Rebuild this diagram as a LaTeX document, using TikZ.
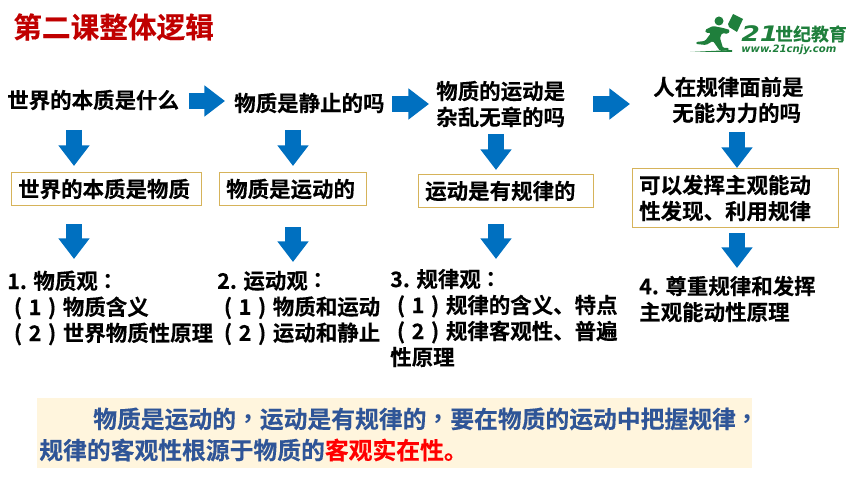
\documentclass[tikz,border=0pt]{standalone}
\usepackage{fontspec}
\usetikzlibrary{arrows.meta}
\setmainfont{Noto Sans CJK SC}[BoldFont={Noto Sans CJK SC Bold},BoldFeatures={FakeBold=0.25}]
\newfontfamily\tcfont{Noto Sans CJK TC}[BoldFont={Noto Sans CJK TC Bold}]
\newfontfamily\logofont{DejaVu Sans}[BoldFont={DejaVu Sans Bold}]
\newcommand{\zw}[1]{{\tcfont #1}}
\newcommand{\num}[1]{\makebox[1em][c]{(}#1\makebox[1em][c]{)}}
\definecolor{flowblue}{HTML}{0070C0}
\definecolor{boxgold}{HTML}{D6B35A}
\definecolor{notefill}{HTML}{FFF5DD}
\definecolor{noteblue}{HTML}{2F5597}
\definecolor{logogreen}{HTML}{1F7F3C}
\definecolor{titlered}{HTML}{C00000}
\tikzset{
  lbl/.style={inner sep=0pt, anchor=west, align=left, font=\bfseries\fontsize{16.1}{19.5}\selectfont},
  ansbox/.style={lbl, anchor=north west, draw=boxgold, line width=0.8pt, inner sep=0pt},
  flow/.style={draw=flowblue, line width=11.4pt, -{Triangle[length=15.5pt,width=22.5pt]}},
  note/.style={inner sep=0pt, anchor=west, text=noteblue, font=\bfseries\fontsize{17.85}{23.25}\selectfont},
}
\begin{document}
\begin{tikzpicture}[x=0.75pt,y=-0.75pt]
  \useasboundingbox (0,0) rectangle (860,484);

  % Title
  \node[inner sep=0pt, anchor=west, text=titlered, font=\bfseries\fontsize{21.5}{24}\selectfont] (title) at (13,27) {第二课整体逻辑};

  % Logo
  \fill[logogreen] (719,21) circle (4.5);
  \fill[logogreen] (728,24) -- (733,14) -- (743,19) -- (737,32) -- (729,27) -- cycle;
  \fill[logogreen, rounded corners=1pt] (705,30) -- (713,26) -- (723,28) -- (730,30) -- (728,34) -- (722,33) -- (720,38) -- (723,48) -- (729,48) -- (729,50) -- (720,51) -- (713,41) -- (706,45) -- (696,44) -- (696,42) -- (705,41) -- (711,33) -- (706,33) -- cycle;
  \fill[logogreen] (690,52) -- (732,50) -- (732,52) -- cycle;
  \node[inner sep=0pt, anchor=west, text=logogreen, font=\logofont\bfseries\itshape\fontsize{16}{16}\selectfont] (brandnum) at (741,34) {\scalebox{1.25}[1]{21}};
  \node[inner sep=0pt, anchor=west, text=logogreen, font=\bfseries\fontsize{13.4}{14}\selectfont] (brand) at (775,34) {世纪教育};
  \node[inner sep=0pt, anchor=west, text=logogreen, font=\logofont\bfseries\itshape\fontsize{7.6}{8}\selectfont] (brandurl) at (741,50) {www.21cnjy.com};

  % Questions
  \node[lbl] (q1) at (7,100) {世界的本质是什么};
  \node[lbl] (q2) at (234,103) {物质是静止的吗};
  \node[lbl] (q3) at (436,104) {物质的运动是\\杂乱无章的吗};
  \node[lbl] (q4) at (653,100) {人在规律面前是\\\hspace*{14.25pt}无能为力的吗};

  % Answers
  \node[ansbox, text width=142.5pt, minimum height=24.75pt] (a1) at (11,172) {\hspace*{5pt}世界的本质是物质};
  \node[ansbox, text width=110.25pt, minimum height=24.75pt] (a2) at (219,172) {\hspace*{5pt}物质是运动的};
  \node[ansbox, text width=131.25pt, minimum height=24.75pt] (a3) at (418,174) {\hspace*{5pt}运动是有规律的};
  \node[ansbox, text width=154.5pt, minimum height=44.25pt] (a4) at (632,168) {\hspace*{5pt}可以发挥主观能动\\\hspace*{5pt}性发现、利用规律};

  % Views
  \node[lbl] (v1) at (7,308) {1. 物质观\zw{：}\\\num{1}物质含义\\\num{2}世界物质性原理};
  \node[lbl] (v2) at (217,308) {2. 运动观\zw{：}\\\num{1}物质和运动\\\num{2}运动和静止};
  \node[lbl] (v3) at (390,318) {3. 规律观\zw{：}\\\num{1}规律的含义、特点\\\num{2}规律客观性、普遍\\性原理};
  \node[lbl] (v4) at (639,299) {4. 尊重规律和发挥\\主观能动性原理};

  % Arrows along the top
  \foreach \from/\to/\yy/\gapa/\gapb in {q1/q2/101/7.2pt/6.75pt, q2/q3/104/5.4pt/5.25pt, q3/q4/104/20.8pt/17.25pt} {
    \coordinate (row\from) at (0,\yy);
    \draw[flow, shorten <=\gapa, shorten >=\gapb] (\from.east |- row\from) -- (\to.west |- row\from);
  }

  % Arrows down to the answers
  \foreach \to/\xx/\ys/\gap in {a1/74/130/4.5pt, a2/293/130/4.5pt, a3/496/134/3pt, a4/737/132/0pt} {
    \coordinate (top\to) at (\xx,\ys);
    \draw[flow, shorten >=\gap] (top\to) -- (top\to |- \to.north);
  }

  % Arrows down to the views
  \foreach \from/\xx/\ye/\gap in {a1/74/259/13.5pt, a2/293/262/15.75pt, a3/496/259/12pt, a4/737/268/3.75pt} {
    \coordinate (tip\from) at (\xx,\ye);
    \draw[flow, shorten <=\gap] (tip\from |- \from.south) -- (tip\from);
  }

  % Note at the bottom
  \fill[notefill] (37,398) rectangle (752,468);
  \node[note] (n1) at (93,419) {物质是运动的\zw{，}运动是有规律的\zw{，}要在物质的运动中把握规律\zw{，}};
  \node[note] (n2) at (39,450) {规律的客观性根源于物质的\textcolor{red}{客观实在性。}};
\end{tikzpicture}
\end{document}
